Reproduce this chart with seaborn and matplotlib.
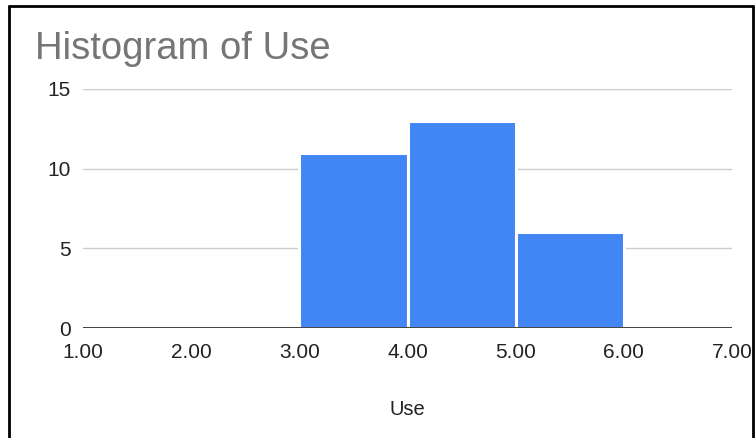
import numpy as np
import pandas as pd
import seaborn as sns
import matplotlib.pyplot as plt
from matplotlib.lines import Line2D

# Data
bin_edges = [3.0, 4.0, 5.0, 6.0]
bin_counts = [11, 13, 6]
x_ticks = [1, 2, 3, 4, 5, 6, 7]
y_ticks = [0, 5, 10, 15]

bin_mids = [(a + b) / 2 for a, b in zip(bin_edges[:-1], bin_edges[1:])]
df = pd.DataFrame({'Use': bin_mids, 'Count': bin_counts})

sns.set_style('white')
plt.rcParams['font.family'] = ['Liberation Sans', 'DejaVu Sans']

fig = plt.figure(figsize=(7.55, 4.38), dpi=100)
ax = fig.add_axes([83 / 755, 1 - 328 / 438, (732 - 83) / 755, (328 - 89) / 438])

sns.histplot(data=df, x='Use', weights='Count', bins=bin_edges, ax=ax,
             color='#4285F4', alpha=1, edgecolor='white', linewidth=2.2, zorder=3)

ax.set_xlim(1, 7)
ax.set_ylim(0, 15)
ax.set_xticks(x_ticks)
ax.set_xticklabels([f"{v:.2f}" for v in x_ticks])
ax.set_yticks(y_ticks)
ax.yaxis.grid(True, color='#cccccc', linewidth=1.0, zorder=0)
ax.xaxis.grid(False)
for s in ax.spines.values():
    s.set_visible(False)
ax.axhline(0, color='#333333', linewidth=1.3, zorder=4)
ax.tick_params(axis='x', length=0, pad=11, labelsize=15, labelcolor='#222222')
ax.tick_params(axis='y', length=0, pad=9, labelsize=15, labelcolor='#222222')
for lbl in ax.get_xticklabels():
    lbl.set_clip_on(False)

ax.set_ylabel('')
ax.set_xlabel('Use', fontsize=14.5, color='#222222', labelpad=27)

fig.text(35 / 755, 1 - 59 / 438, 'Histogram of Use', fontsize=27.5,
         color='#757575', va='baseline', ha='left')

# outer frame (top, left, right)
fr = dict(color='black', linewidth=2, transform=fig.transFigure)
fig.add_artist(Line2D([9 / 755, 753 / 755], [1 - 6 / 438, 1 - 6 / 438], **fr))
fig.add_artist(Line2D([9 / 755, 9 / 755], [0, 1 - 6 / 438], **fr))
fig.add_artist(Line2D([753 / 755, 753 / 755], [0, 1 - 6 / 438], **fr))

fig.savefig('out.png', dpi=100)
